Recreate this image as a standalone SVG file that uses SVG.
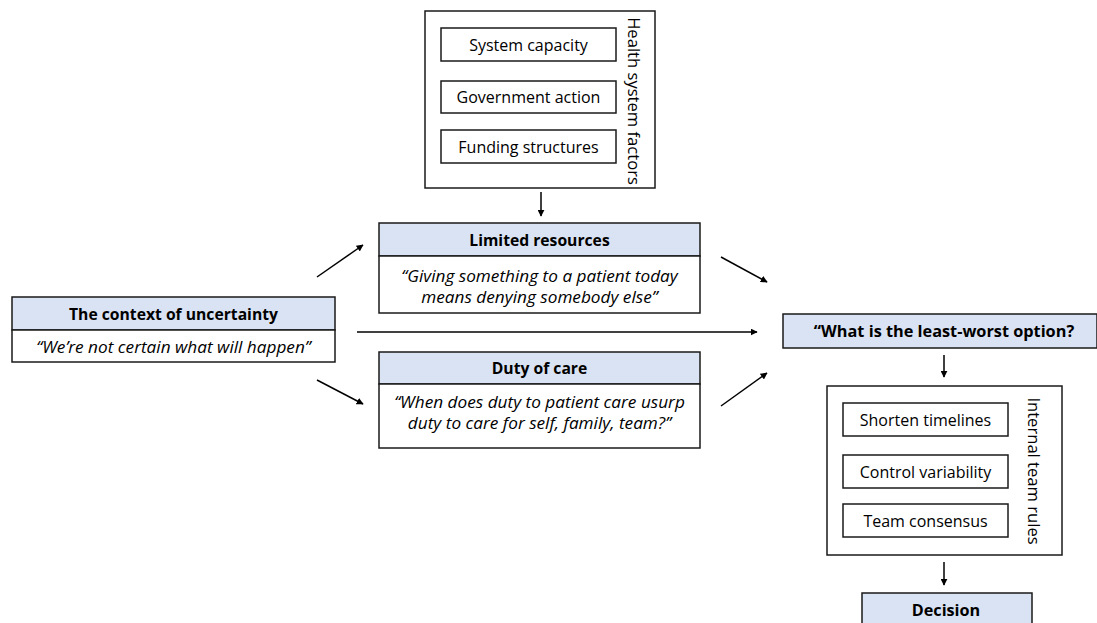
<svg xmlns="http://www.w3.org/2000/svg" width="1097" height="623" viewBox="0 0 1097 623">
<style>
text{font-family:"Open Sans","Liberation Sans",sans-serif;fill:#000}
.box{fill:#fff;stroke:#1a1a1a;stroke-width:1.5}
.hdr{fill:#dae3f3;stroke:#1a1a1a;stroke-width:1.5}
.t{font-size:16px;text-anchor:middle;dominant-baseline:central}
.b{font-size:15.7px;font-weight:bold;text-anchor:middle;dominant-baseline:central}
.q{font-size:17.2px;font-style:italic;text-anchor:middle;dominant-baseline:central}
.v{font-size:16.6px;text-anchor:middle;dominant-baseline:central}
.c{stroke:#000;stroke-width:1.5;fill:none;marker-end:url(#ah)}
</style>
<defs>
<marker id="ah" viewBox="0 0 10 10" refX="9" refY="5" markerWidth="7" markerHeight="7" markerUnits="userSpaceOnUse" orient="auto">
<path d="M0,0 L10,5 L0,10 z" fill="#000"/>
</marker>
</defs>
<g id="health-system-factors">
<rect class="box" x="425" y="11" width="230" height="177"/>
<rect class="box" x="441" y="28" width="175" height="33"/>
<text class="t" x="528.5" y="44.5">System capacity</text>
<rect class="box" x="441" y="81" width="175" height="32"/>
<text class="t" x="528.5" y="97">Government action</text>
<rect class="box" x="441" y="130" width="175" height="33"/>
<text class="t" x="528.5" y="146.5">Funding structures</text>
<text class="v" transform="translate(634,101) rotate(90)">Health system factors</text>
</g>
<g id="limited-resources">
<rect class="hdr" x="379" y="223" width="321" height="33"/>
<rect class="box" x="379" y="256" width="321" height="57"/>
<text class="b" x="539.5" y="240">Limited resources</text>
<text class="q" x="539.5" y="275">“Giving something to a patient today</text>
<text class="q" x="539.5" y="296">means denying somebody else”</text>
</g>
<g id="context">
<rect class="hdr" x="12" y="297" width="323" height="33"/>
<rect class="box" x="12" y="330" width="323" height="32"/>
<text class="b" x="173.5" y="314">The context of uncertainty</text>
<text class="q" x="173.5" y="346">“We’re not certain what will happen”</text>
</g>
<g id="duty-of-care">
<rect class="hdr" x="379" y="352" width="321" height="32"/>
<rect class="box" x="379" y="384" width="321" height="64"/>
<text class="b" x="539.5" y="368">Duty of care</text>
<text class="q" x="539.5" y="401">“When does duty to patient care usurp</text>
<text class="q" x="539.5" y="422">duty to care for self, family, team?”</text>
</g>
<g id="least-worst">
<rect class="hdr" x="783" y="314" width="314" height="34"/>
<text class="b" x="944" y="331" style="font-size:16.3px">“What is the least-worst option?</text>
</g>
<g id="internal-team-rules">
<rect class="box" x="827" y="386" width="235" height="169"/>
<rect class="box" x="843" y="403" width="165" height="33"/>
<text class="t" x="925.5" y="419.5">Shorten timelines</text>
<rect class="box" x="843" y="455" width="165" height="33"/>
<text class="t" x="925.5" y="471.5">Control variability</text>
<rect class="box" x="843" y="504" width="165" height="33"/>
<text class="t" x="925.5" y="520.5">Team consensus</text>
<text class="v" transform="translate(1034,471) rotate(90)">Internal team rules</text>
</g>
<g id="decision">
<rect class="hdr" x="862" y="593" width="170" height="40"/>
<text class="b" x="946" y="610" style="font-size:16.2px">Decision</text>
</g>
<g id="connectors">
<line class="c" x1="541" y1="192" x2="541" y2="216"/>
<line class="c" x1="317" y1="277" x2="363" y2="245"/>
<line class="c" x1="317" y1="380" x2="363" y2="404"/>
<line class="c" x1="357" y1="332" x2="757" y2="332"/>
<line class="c" x1="721" y1="257" x2="767" y2="282"/>
<line class="c" x1="721" y1="406" x2="767" y2="373"/>
<line class="c" x1="944" y1="355" x2="944" y2="377"/>
<line class="c" x1="944" y1="562" x2="944" y2="585"/>
</g>
</svg>
